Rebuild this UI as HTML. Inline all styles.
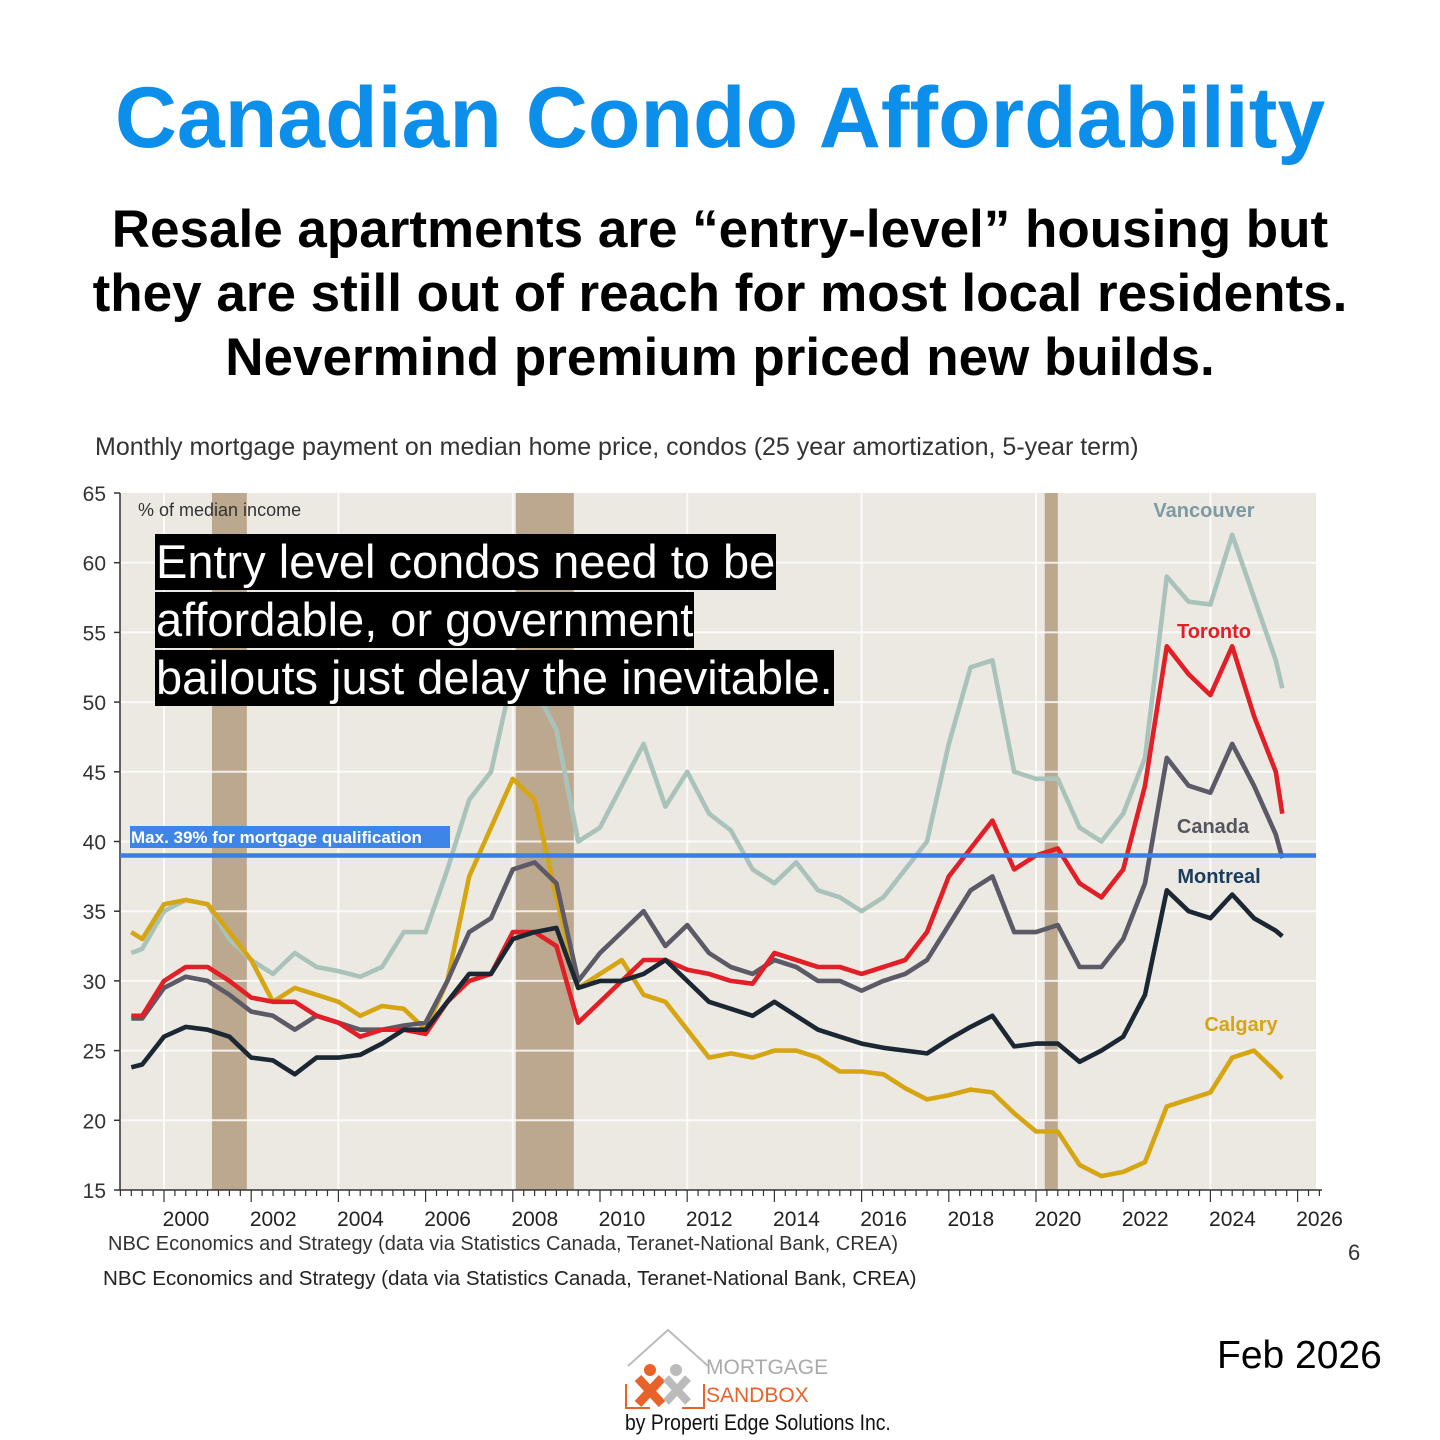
<!DOCTYPE html>
<html><head><meta charset="utf-8">
<style>
body{margin:0;width:1440px;height:1440px;background:#fff;position:relative;font-family:"Liberation Sans",sans-serif;overflow:hidden}
.abs{position:absolute}
#title{left:0;width:1440px;top:70px;text-align:center;font-size:86px;font-weight:bold;color:#0c8fea;line-height:96px}
#sub{left:0;width:1440px;top:198px;text-align:center;font-size:53px;font-weight:bold;color:#000;line-height:64px}
.ann{position:absolute;left:155px;background:#000;color:#fff;font-size:47px;line-height:56px;height:56px;padding:0 1px 0 1px;white-space:nowrap}
</style></head><body>
<div id="title" class="abs">Canadian Condo Affordability</div>
<div id="sub" class="abs">Resale apartments are “entry-level” housing but<br>they are still out of reach for most local residents.<br>Nevermind premium priced new builds.</div>
<div class="abs" style="left:95px;top:433px;font-size:25px;color:#333">Monthly mortgage payment on median home price, condos (25 year amortization, 5-year term)</div>

<svg id="chart" class="abs" style="left:0;top:0" width="1440" height="1300"></svg>

<div class="ann" style="top:534px">Entry level condos need to be</div>
<div class="ann" style="top:592px">affordable, or government</div>
<div class="ann" style="top:650px">bailouts just delay the inevitable.</div>

<div class="abs" style="left:108px;top:1233px;font-size:20px;color:#333">NBC Economics and Strategy (data via Statistics Canada, Teranet-National Bank, CREA)</div>
<div class="abs" style="left:103px;top:1267px;font-size:20.6px;color:#222">NBC Economics and Strategy (data via Statistics Canada, Teranet-National Bank, CREA)</div>
<div class="abs" style="left:1348px;top:1240px;font-size:22px;color:#333">6</div>
<div class="abs" style="left:1217px;top:1334px;font-size:39px;color:#000">Feb 2026</div>

<svg class="abs" style="left:620px;top:1326px" width="210" height="90">
<polyline points="8,40 48,4 88,40" fill="none" stroke="#bbb" stroke-width="2"/>
<circle cx="30" cy="44" r="6" fill="#e8632a"/><path d="M18,52 L42,78 M42,52 L18,78" stroke="#e8632a" stroke-width="9"/>
<circle cx="56" cy="44" r="6" fill="#bbb"/><path d="M46,52 L68,76 M68,52 L46,76" stroke="#bbb" stroke-width="8"/>
<path d="M6,58 V82 H30 M62,82 H84 V58" fill="none" stroke="#e8632a" stroke-width="2"/>
<text x="86" y="48" font-size="21" fill="#aaa" font-family="Liberation Sans,sans-serif">MORTGAGE</text>
<text x="86" y="76" font-size="21" fill="#e8632a" font-family="Liberation Sans,sans-serif">SANDBOX</text>
</svg>
<div class="abs" style="left:625px;top:1410px;font-size:22px;color:#111;transform:scaleX(0.88);transform-origin:left">by Properti Edge Solutions Inc.</div>

<script>
const years=[1999.25,1999.5,2000,2000.5,2001,2001.5,2002,2002.5,2003,2003.5,2004,2004.5,2005,2005.5,2006,2006.5,2007,2007.5,2008,2008.5,2009,2009.5,2010,2010.5,2011,2011.5,2012,2012.5,2013,2013.5,2014,2014.5,2015,2015.5,2016,2016.5,2017,2017.5,2018,2018.5,2019,2019.5,2020,2020.5,2021,2021.5,2022,2022.5,2023,2023.5,2024,2024.5,2025,2025.5,2025.65];
const vancouver=[32,32.3,35,35.8,35.5,33,31.5,30.5,32,31,30.7,30.3,31,33.5,33.5,38,43,45,52,51,48,40,41,44,47,42.5,45,42,40.8,38,37,38.5,36.5,36,35,36,38,40,47,52.5,53,45,44.5,44.5,41,40,42,46,59,57.2,57,62,57.5,53,51];
const toronto=[27.5,27.5,30,31,31,30,28.8,28.5,28.5,27.5,27,26,26.5,26.5,26.2,28.5,30,30.5,33.5,33.5,32.5,27,28.5,30,31.5,31.5,30.8,30.5,30,29.8,32,31.5,31,31,30.5,31,31.5,33.5,37.5,39.5,41.5,38,39,39.5,37,36,38,44,54,52,50.5,54,49,45,42];
const canada=[27.3,27.3,29.5,30.3,30,29,27.8,27.5,26.5,27.5,27,26.5,26.5,26.8,27,30,33.5,34.5,38,38.5,37,30,32,33.5,35,32.5,34,32,31,30.5,31.5,31,30,30,29.3,30,30.5,31.5,34,36.5,37.5,33.5,33.5,34,31,31,33,37,46,44,43.5,47,44,40.5,38.8];
const montreal=[23.8,24,26,26.7,26.5,26,24.5,24.3,23.3,24.5,24.5,24.7,25.5,26.5,26.5,28.5,30.5,30.5,33,33.5,33.8,29.5,30,30,30.5,31.5,30,28.5,28,27.5,28.5,27.5,26.5,26,25.5,25.2,25,24.8,25.8,26.7,27.5,25.3,25.5,25.5,24.2,25,26,29,36.5,35,34.5,36.2,34.5,33.6,33.2];
const calgary=[33.5,33,35.5,35.8,35.5,33.5,31.5,28.5,29.5,29,28.5,27.5,28.2,28,26.5,30,37.5,41,44.5,43,36,29.5,30.5,31.5,29,28.5,26.5,24.5,24.8,24.5,25,25,24.5,23.5,23.5,23.3,22.3,21.5,21.8,22.2,22,20.5,19.2,19.2,16.8,16,16.3,17,21,21.5,22,24.5,25,23.5,23];
const recessions=[[2001.1,2001.9],[2008.07,2009.4],[2020.2,2020.5]];
const yTicks=[15,20,25,30,35,40,45,50,55,60,65];
const xTickLabels=[2000,2002,2004,2006,2008,2010,2012,2014,2016,2018,2020,2022,2024,2026];
const threshold=39;

const NS='http://www.w3.org/2000/svg';
const svg=document.getElementById('chart');
const L=120,R=1316,T=493,B=1190;
const x=yr=>164+(yr-2000)*43.6;
const y=v=>B-(v-15)*(B-T)/50;
function mk(tag,attrs,parent){const e=document.createElementNS(NS,tag);for(const k in attrs)e.setAttribute(k,attrs[k]);(parent||svg).appendChild(e);return e;}

const bg=mk('rect',{x:L,y:T,width:R-L,height:B-T,fill:'#ece9e3'});


recessions.forEach(r=>{
  const e=mk('rect',{x:x(r[0]),y:T,width:x(r[1])-x(r[0]),height:B-T,fill:'#bca88e'});
  
  
});
yTicks.forEach(v=>{
  if(v>15&&v<65){const g=mk('line',{x1:L,x2:R,y1:y(v),y2:y(v),stroke:'#fff','stroke-width':2,opacity:0.8});
  
  }
  mk('line',{x1:L-6,x2:L,y1:y(v),y2:y(v),stroke:'#333','stroke-width':1.5});
  const t=mk('text',{x:106,y:y(v)+8,'text-anchor':'end','font-size':21,fill:'#333'});
  t.textContent=v;
  
  
});
for(let yr=2000;yr<=2024;yr+=4){const g=mk('line',{x1:x(yr),x2:x(yr),y1:T,y2:B,stroke:'#fff','stroke-width':2,opacity:0.8});
  
  }
const t2=mk('text',{x:138,y:516,'font-size':18,fill:'#333'});t2.textContent='% of median income';


mk('line',{x1:L,x2:L,y1:T,y2:B,stroke:'#333','stroke-width':1.5});
mk('line',{x1:L,x2:1322,y1:B,y2:B,stroke:'#333','stroke-width':1.5});
for(let q=1999*4;q<=2026.5*4;q++){const yr=q/4;const xx=x(yr);if(xx<L||xx>1322)continue;
  const major=(q%8===0);mk('line',{x1:xx,x2:xx,y1:B,y2:B+(major?12:6),stroke:'#333','stroke-width':1.2});}
xTickLabels.forEach(yr=>{const t=mk('text',{x:x(yr)+22,y:1226,'text-anchor':'middle','font-size':21,fill:'#222'});t.textContent=yr;
  
  });

const series=[['vancouver-line',vancouver,'#a9c3bb'],['calgary-line',calgary,'#d6a512'],['canada-line',canada,'#5b5a66'],['toronto-line',toronto,'#e21f26'],['montreal-line',montreal,'#1b2733']];
series.forEach(s=>{
  const d=years.map((yr,i)=>(i?'L':'M')+x(yr).toFixed(1)+','+y(s[1][i]).toFixed(1)).join(' ');
  const p=mk('path',{d:d,fill:'none',stroke:s[2],'stroke-width':4.6,'stroke-linejoin':'round'});
  
  
});
const th=mk('line',{x1:L,x2:R,y1:y(threshold),y2:y(threshold),stroke:'#3d7de4','stroke-width':4.5});


mk('rect',{x:130,y:826,width:320,height:22,fill:'#3d86e8'});
const tl=mk('text',{x:131,y:843,'font-size':17,'font-weight':'bold',fill:'#fff'});tl.textContent='Max. 39% for mortgage qualification';


const labels=[['Vancouver',1204,517,'#7d9aa2'],['Toronto',1214,638,'#e21f26'],['Canada',1213,833,'#555560'],['Montreal',1219,883,'#1a3d5c'],['Calgary',1241,1031,'#d6a512']];
labels.forEach(l=>{const t=mk('text',{x:l[1],y:l[2],'text-anchor':'middle','font-size':20,'font-weight':'bold',fill:l[3]});t.textContent=l[0];
  
  });
</script>
</body></html>
